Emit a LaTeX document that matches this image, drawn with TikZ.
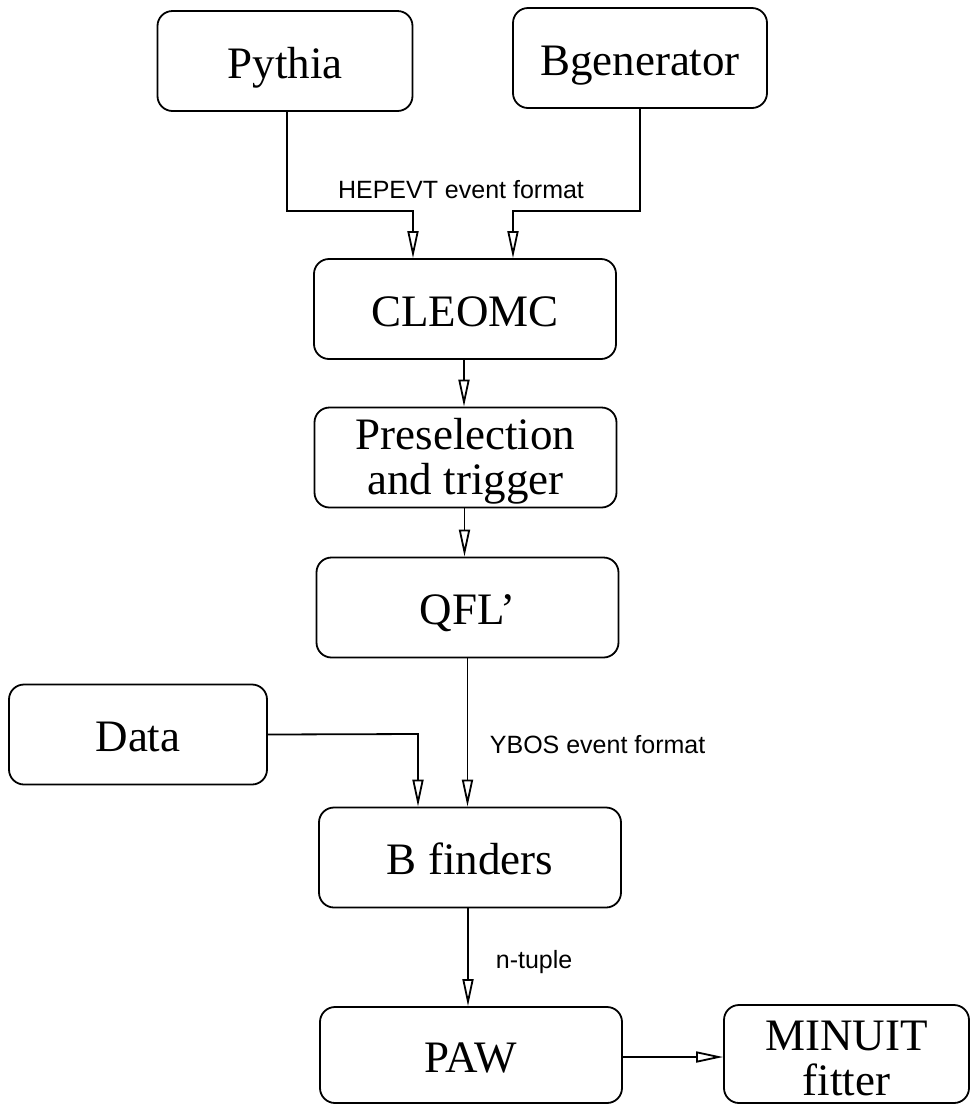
\documentclass[tikz,border=0pt]{standalone}
\usepackage{fontspec}
\setmainfont{Liberation Serif}
\newfontfamily\MCsans{Liberation Sans}
\usetikzlibrary{arrows.meta}
\newcommand\MCstrut{\rule{0pt}{19.5pt}}

\begin{document}
\begin{tikzpicture}[x=.5pt,y=-.5pt,line width=.9pt,
 font=\fontsize{22.5}{22.5}\selectfont,
 MCbox/.style={draw,rounded corners=7.5pt,align=center,inner sep=0pt,
  minimum width=151pt,minimum height=50pt},
 MCone/.style={MCbox,text height=17pt,text depth=0pt},
 MClabel/.style={font=\MCsans\fontsize{12.5}{14}\selectfont,inner sep=0pt},
 MCarrow/.style={-{Triangle[open,length=13.5pt,width=5.5pt]}}]
\useasboundingbox (0,0) rectangle (970,1105);
% generators
\node[MCone,minimum width=127.5pt] (pythia) at (285,61) {Pythia};
\node[MCone,minimum width=127pt] (bgen) at (640,58) {Bgenerator};
\node[MClabel,anchor=base] (hepevt) at (461,198) {HEPEVT event format};
% main chain
\node[MCone] (cleomc) at (465,309) {CLEOMC};
\node[MCbox] (presel) at (465.5,457.5) {\MCstrut Preselection\\and trigger};
\node[MCone] (qfl) at (467.5,607.5) {QFL'};
\node[MCone,minimum width=129pt] (data) at (138,734.5) {Data};
\node[MCone] (bfind) at (470,857.5) {B finders};
\node[MClabel,anchor=base west] (ybos) at (489,753) {YBOS event format};
\node[MCone,minimum height=48pt] (paw) at (471,1055) {PAW};
\node[MClabel,anchor=base west] (ntuple) at (495,968) {n-tuple};
\node[MCbox,minimum width=122.5pt,minimum height=49pt] (minuit) at (846.5,1054) {\MCstrut MINUIT\\fitter};
% entry points
\coordinate (pyBend) at (413,211);
\coordinate (bgBend) at (513,211);
\coordinate (dataBend) at (418,734);
% connectors
\draw[MCarrow] ([xshift=1pt]pythia.south) |- (pyBend) -- (pyBend |- cleomc.north);
\draw[MCarrow] (bgen.south) |- (bgBend) -- (bgBend |- cleomc.north);
\draw[MCarrow] ([xshift=-.5pt]cleomc.south) -- ([xshift=-.5pt]cleomc.south |- presel.north);
\draw[MCarrow] ([xshift=-.5pt]presel.south) -- ([xshift=-.5pt]presel.south |- qfl.north);
\draw[MCarrow] (qfl.south) -- (qfl.south |- bfind.north);
\draw[MCarrow] (data.east) -- (dataBend) -- (dataBend |- bfind.north);
\draw[MCarrow] ([xshift=-1pt]bfind.south) -- ([xshift=-1pt]bfind.south |- paw.north);
\draw[MCarrow] ([yshift=-1pt]paw.east) -- ([yshift=-1pt]paw.east -| minuit.west);
\end{tikzpicture}
\end{document}
